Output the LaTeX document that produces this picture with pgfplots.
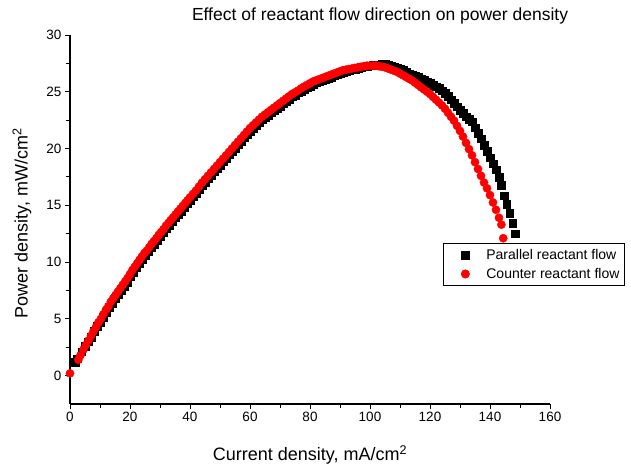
\documentclass[border=0pt]{standalone}
\usepackage{pgfplots}
\pgfplotsset{compat=1.18}
\usepackage{fontspec}
\setmainfont{Liberation Sans}
\begin{document}
\begin{tikzpicture}
\begin{axis}[
  at={(0,0)}, anchor=south west,
  scale only axis, width=480pt, height=369pt,
  xmin=0, xmax=160, ymin=-2.5, ymax=30,
  axis x line*=bottom, axis y line*=left,
  xtick={0,20,...,160}, ytick={0,5,...,30},
  minor x tick num=1, minor y tick num=1,
  tick align=outside,
  major tick length=5pt, minor tick length=3.5pt,
  tick style={black, line width=0.9pt},
  axis line style={black, line width=1.2pt},
  ticklabel style={font=\fontsize{13.5}{15}\selectfont},
  /pgf/number format/assume math mode=true,
  xlabel={Current density, mA/cm\textsuperscript{2}},
  ylabel={Power density, mW/cm\textsuperscript{2}},
  xlabel style={font=\fontsize{18}{21}\selectfont, at={(axis description cs:0.5,-0.138)}, anchor=center},
  ylabel style={font=\fontsize{18}{21}\selectfont, at={(axis description cs:-0.1,0.49)}, anchor=center},
  title={Effect of reactant flow direction on power density},
  title style={font=\fontsize{17.5}{20}\selectfont, at={(axis description cs:0.646,1.034)}, anchor=center},
  legend style={at={(axis description cs:0.777,0.436)}, anchor=north west, draw=black, line width=0.8pt, font=\fontsize{14}{16}\selectfont, inner xsep=3pt, inner ysep=4pt, row sep=3pt},
  legend cell align=left,
  legend image code/.code={\path[draw=none,fill=none] (0pt,-4pt) rectangle (38pt,4pt); \draw[#1,mark repeat=2,mark phase=2] plot coordinates {(0pt,0pt)(19pt,0pt)(38pt,0pt)};},
]
\addplot[only marks, mark=square*, mark size=3.8pt, black, mark options={draw=black, fill=black}] table {
x y
1.7 1.2
2.5 1.5
3.9 2.1
5.0 2.6
6.0 3.0
7.0 3.4
8.0 3.9
9.0 4.35
10 4.65
11 5.15
12 5.6
13 6.0
14 6.4
15 6.8
16 7.15
17 7.5
18 7.9
19 8.25
20 8.7
21 9.1
22 9.5
23 9.85
24 10.25
25 10.55
26 10.9
27 11.25
28 11.6
29 11.9
30 12.25
31 12.6
32 12.95
33 13.25
34 13.55
35 13.9
36 14.2
37 14.5
38 14.85
39 15.15
40 15.45
41 15.75
42 16.05
43 16.4
44 16.75
45 17.05
46 17.35
47 17.65
48 17.95
49 18.25
50 18.55
51 18.85
52 19.15
53 19.45
54 19.75
55 20.05
56 20.35
57 20.65
58 20.95
59 21.25
60 21.55
61 21.8
62 22.05
63 22.3
64 22.55
65 22.75
66 22.95
67 23.15
68 23.35
69 23.55
70 23.75
71 23.95
72 24.15
73 24.35
74 24.55
75 24.7
76 24.9
77 25.05
78 25.2
79 25.35
80 25.5
81 25.65
82 25.8
83 25.9
84 26.0
85 26.1
86 26.2
87 26.3
88 26.4
89 26.5
90 26.6
91 26.7
92 26.8
93 26.85
94 26.95
95 27.0
96 27.1
97 27.15
98 27.2
99 27.25
100 27.3
101 27.35
102 27.4
103 27.4
104 27.45
105 27.45
106 27.4
107 27.3
108 27.2
109 27.1
110 27.0
111 26.9
112 26.75
113 26.6
114 26.5
115 26.4
116 26.3
117 26.15
118 26.0
119 25.9
120 25.75
121 25.6
122 25.45
123 25.3
124 25.1
125 24.85
126 24.6
127 24.3
128 24.0
129 23.7
130 23.4
131 23.1
132 22.8
133 22.6
134 22.35
135 21.85
136 21.35
137 20.85
138 20.3
139 19.75
140 19.2
141 18.65
142 18.15
143 17.45
143.8 16.75
144.8 15.85
145.6 15.1
146.5 14.3
147.6 13.4
148.4 12.5
};
\addlegendentry{Parallel reactant flow}
\addplot[only marks, mark=*, mark size=4.1pt, red, mark options={draw=red, fill=red}] table {
x y
0 0.2
2.8 1.4
3.5 1.8
4.5 2.3
5.3 2.7
6.2 3.1
7.0 3.5
7.8 3.9
8.7 4.3
9.5 4.7
10.3 5.0
11.1 5.4
12.0 5.8
12.8 6.1
13.6 6.5
14.4 6.8
15.2 7.1
16.0 7.4
16.8 7.7
17.6 8.0
18.4 8.3
19.2 8.6
20.0 8.95
20.8 9.3
21.6 9.6
22.4 9.9
23.2 10.2
24.0 10.5
24.8 10.8
25.6 11.0
26.4 11.3
27.2 11.6
28.0 11.85
28.8 12.1
29.6 12.4
30.4 12.65
31.2 12.9
32.0 13.2
32.8 13.45
33.6 13.7
34.4 13.95
35.2 14.2
36.0 14.45
36.8 14.7
37.6 14.95
38.4 15.2
39.2 15.45
40 15.7
41 16.0
42 16.3
43 16.65
44 17.0
45 17.3
46 17.6
47 17.9
48 18.2
49 18.5
50 18.8
51 19.1
52 19.4
53 19.7
54 20.0
55 20.3
56 20.6
57 20.9
58 21.2
59 21.5
60 21.8
61 22.05
62 22.3
63 22.55
64 22.8
65 23.0
66 23.2
67 23.4
68 23.6
69 23.8
70 24.0
71 24.2
72 24.4
73 24.6
74 24.8
75 24.95
76 25.1
77 25.3
78 25.45
79 25.6
80 25.75
81 25.9
82 26.0
83 26.1
84 26.2
85 26.3
86 26.4
87 26.5
88 26.6
89 26.7
90 26.8
91 26.9
92 26.95
93 27.0
94 27.05
95 27.1
96 27.15
97 27.2
98 27.25
99 27.3
100 27.3
101 27.3
102 27.3
103 27.25
104 27.2
105 27.15
106 27.05
107 26.95
108 26.85
109 26.75
110 26.6
111 26.45
112 26.3
113 26.15
114 26.0
115 25.8
116 25.6
117 25.4
118 25.2
119 25.0
120 24.8
121 24.55
122 24.3
123 24.05
124 23.8
125 23.5
126 23.15
127 22.8
128 22.45
129 22.0
130 21.55
131 21.05
132 20.5
133 19.95
134 19.4
135 18.8
136 18.2
137 17.6
138 17.0
139 16.5
140 15.9
141 15.25
142 14.6
143 13.9
143.8 13.3
144.4 12.1
};
\addlegendentry{Counter reactant flow}
\end{axis}
\path[use as bounding box] (-70pt,-61pt) rectangle (561pt,404pt);
\end{tikzpicture}
\end{document}
